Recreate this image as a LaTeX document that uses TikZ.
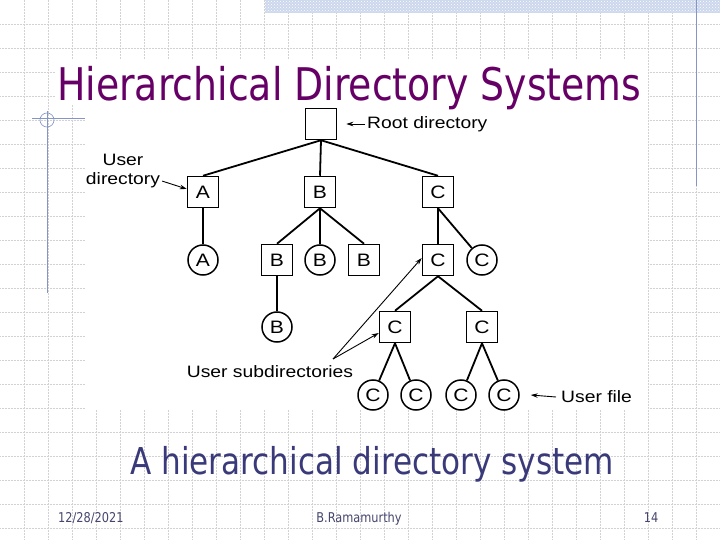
\documentclass[tikz,border=0pt]{standalone}
\usepackage{fontspec}
\setmainfont{Liberation Sans}
\newfontfamily\slidefont[FakeStretch=0.84]{DejaVu Sans}
\newfontfamily\diagfont[FakeStretch=1.17]{Liberation Sans}
\usepackage{xcolor}
\usetikzlibrary{arrows.meta,patterns}

\definecolor{titlepurple}{HTML}{660066}
\definecolor{slideblue}{HTML}{3A3A7A}
\definecolor{footgray}{HTML}{45456E}
\definecolor{decoblue}{HTML}{8595C4}
\definecolor{barblue}{HTML}{CCD7EE}

\begin{document}
\begin{tikzpicture}[x=1pt,y=-1pt,
  gridline/.style={gray!35,densely dotted,line width=0.5pt},
  dirbox/.style={draw,line width=1.5pt,minimum width=31pt,minimum height=31pt,inner sep=0pt,font=\diagfont\fontsize{18}{18}\selectfont},
  filenode/.style={draw,circle,line width=1.5pt,minimum size=30pt,inner sep=0pt,font=\diagfont\fontsize{18}{18}\selectfont},
  edge/.style={line width=1.8pt},
  pointer/.style={line width=0.9pt,-{Stealth[length=7pt,width=4.5pt]}},
  note/.style={inner sep=0pt,font=\diagfont\fontsize{16.5}{19}\selectfont}]
\useasboundingbox (0,0) rectangle (720,540);

% Slide background
\fill[white] (0,0) rectangle (720,540);
\foreach \gx in {24,48,...,720} \draw[gridline] (\gx,0) -- (\gx,540);
\foreach \gy in {24,48,...,528} \draw[gridline] (0,\gy) -- (720,\gy);
\fill[barblue] (265,0) rectangle (720,13);
\fill[pattern=crosshatch dots,pattern color=white] (265,0) rectangle (720,13);
\draw[decoblue,line width=1pt] (696,0) -- (696,186);
\draw[decoblue,line width=1pt] (32,119) -- (86,119);
\draw[decoblue,line width=1pt] (47,111) -- (47,293);
\draw[decoblue,line width=0.6pt] (47,120) circle (7);
\fill[white] (55,60) rectangle (648,105);
\fill[white] (85,105) rectangle (648,410);

% Title
\node[anchor=base west,inner sep=0pt,text=titlepurple,font=\slidefont\fontsize{45}{45}\selectfont] (title) at (57,101) {Hierarchical Directory Systems};

% Tree
\node[dirbox] (root) at (321,124) {};
\node[dirbox] (ua) at (203,192) {A};
\node[dirbox] (ub) at (320,192) {B};
\node[dirbox] (uc) at (438,192) {C};
\node[filenode] (fa) at (203,260) {A};
\node[dirbox] (b1) at (277,260) {B};
\node[filenode] (fb) at (320,260) {B};
\node[dirbox] (b2) at (364,260) {B};
\node[dirbox] (c1) at (438,260) {C};
\node[filenode] (fc) at (482,260) {C};
\node[filenode] (fb2) at (277,327) {B};
\node[dirbox] (c2) at (395,327) {C};
\node[dirbox] (c3) at (482,327) {C};
\node[filenode] (f1) at (373,395) {C};
\node[filenode] (f2) at (416,395) {C};
\node[filenode] (f3) at (461,395) {C};
\node[filenode] (f4) at (504,395) {C};

\draw[edge] (root.south) -- (ua.north);
\draw[edge] (root.south) -- (ub.north);
\draw[edge] (root.south) -- (uc.north);
\draw[edge] (ua) -- (fa);
\draw[edge] (ub.south) -- (b1.north);
\draw[edge] (ub) -- (fb);
\draw[edge] (ub.south) -- (b2.north);
\draw[edge] (uc) -- (c1);
\draw[edge] (uc.south) -- (fc);
\draw[edge] (b1) -- (fb2);
\draw[edge] (c1.south) -- (c2.north);
\draw[edge] (c1.south) -- (c3.north);
\draw[edge] (c2.south) -- (f1);
\draw[edge] (c2.south) -- (f2);
\draw[edge] (c3.south) -- (f3);
\draw[edge] (c3.south) -- (f4);

% Labels and pointers
\node[note,anchor=west] (rootlbl) at (367,124) {Root directory};
\draw[pointer] ([xshift=-2pt]rootlbl.west) -- ([xshift=9pt]root.east);

\node[note,align=center] (udirlbl) at (123,171) {User\\directory};
\draw[pointer] ([xshift=2pt,yshift=7pt]udirlbl.south east) -- ([yshift=3pt]ua.west);

\node[note] (sublbl) at (270,372) {User subdirectories};
\coordinate (subtail) at (333,359);
\draw[pointer] (subtail) -- ([yshift=2pt]c1.west);
\draw[pointer] (subtail) -- ([yshift=-6pt]c2.west);

\node[note,anchor=west] (filelbl) at (561,397) {User file};
\draw[pointer] ([xshift=-5pt]filelbl.west) -- ([xshift=11pt]f4.east);

% Caption and footer
\node[anchor=base west,inner sep=0pt,text=slideblue,font=\slidefont\fontsize{37}{37}\selectfont] (caption) at (130,474) {A hierarchical directory system};
\node[anchor=base west,inner sep=0pt,text=footgray,font=\slidefont\fontsize{13.5}{15}\selectfont] (date) at (58,522) {12/28/2021};
\node[anchor=base,inner sep=0pt,text=footgray,font=\slidefont\fontsize{13.5}{15}\selectfont] (author) at (359,522) {B.Ramamurthy};
\node[anchor=base,inner sep=0pt,text=footgray,font=\slidefont\fontsize{13.5}{15}\selectfont] (page) at (651,522) {14};
\end{tikzpicture}
\end{document}
